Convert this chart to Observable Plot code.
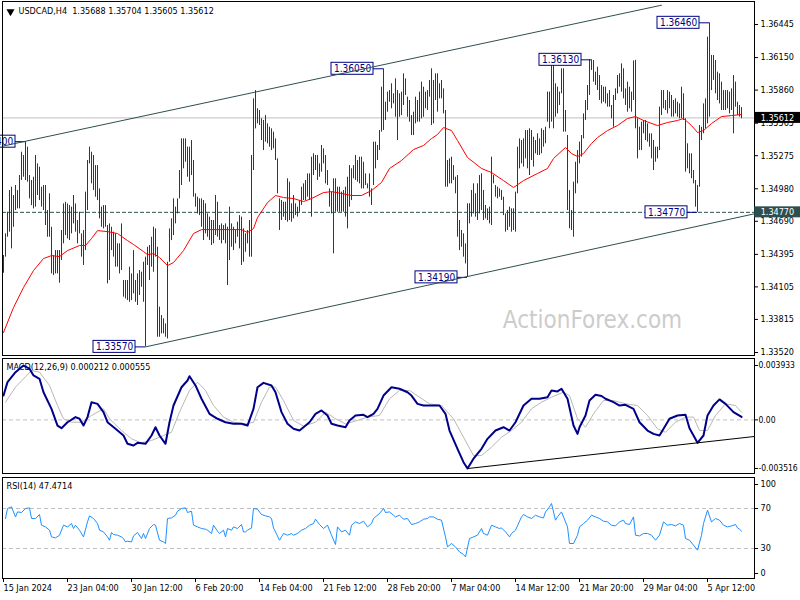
<!DOCTYPE html>
<html><head><meta charset="utf-8">
<script src="https://cdn.jsdelivr.net/npm/d3@7"></script>
<script src="https://cdn.jsdelivr.net/npm/@observablehq/plot@0.6"></script>
<style>
html,body{margin:0;padding:0;background:#fff;}
#chart{position:relative;width:800px;height:600px;overflow:hidden;background:#fff;}
#chart svg{position:absolute;left:0;background:transparent;}
</style></head><body><div id="chart"></div>
<script>
// ---------- DATA (prices stored as points above 1.30000, i.e. 5612 = 1.35612) ----------
const barHighPts = [4385,4578,4771,4964,4994,4920,5009,4964,5098,5306,5277,5400,5351,5098,5054,5083,5277,5202,5172,4994,5009,5009,4786,4935,4637,4385,4429,4429,4429,4608,4845,4860,4845,4830,4816,4920,4845,4697,4771,4578,4608,4950,5232,5351,5306,5277,5187,5187,4979,4816,4830,4830,4652,4667,4637,4593,4578,4489,4489,4667,4162,4162,4162,4281,4221,4429,4162,4221,4251,4236,4325,4370,4459,4474,4548,4637,4622,4459,3924,3849,3820,3775,4325,4622,4712,4890,4816,4890,5143,5425,5425,5425,5351,5351,5410,5232,4935,4905,4890,
4890,4875,4846,4756,4727,4697,4697,4920,4860,4652,4667,4652,4667,4637,4816,4667,4637,4608,4682,4741,4727,4623,4578,4608,4697,5277,5782,5856,5693,5678,5604,5589,5633,5559,5529,5514,5485,5425,5247,4890,4875,4860,4860,5069,5039,4846,4920,4846,4816,4875,4994,5024,5054,5113,5113,5262,5292,5277,5277,5202,5366,5336,5277,5143,4979,4950,5069,5069,4994,4994,4950,4964,4994,5083,5187,5158,5187,5277,5232,5262,5262,5217,5113,5024,5113,4979,5396,5396,5366,5500,5886,6050,5752,5842,5856,
5916,5827,5960,5856,5827,5842,6005,5960,5797,5767,5633,5663,5797,5767,5842,5931,5886,5842,5856,5946,6050,5946,6005,6005,5916,5946,5871,5678,5232,5247,5262,5187,5083,5098,4697,4608,4578,4489,4846,4846,4965,5024,4935,5024,5098,5113,4965,4831,4801,4816,5262,5098,5009,4994,4979,4965,4905,4756,4786,4816,4801,4801,4950,5351,5425,5410,5425,5500,5500,5515,5500,5440,5410,5470,5425,5515,5500,5529,5842,5842,6120,6094,5916,5886,5842,6050,6050,5678,
5455,4964,4786,5039,5217,5321,5396,5455,5648,5767,5901,6130,6130,6124,6020,6064,5990,5901,5886,5886,5827,5856,5723,5812,5871,5990,6005,6094,6050,5871,5931,5886,5842,6120,6125,5604,5529,5574,5589,5589,5559,5470,5470,5410,5351,5351,5708,5856,5856,5767,5856,5842,5812,5767,5782,5752,5737,5886,5827,5604,5381,5292,5292,5143,5054,5009,5544,5529,5737,5782,6332,6460,6169,6169,6124,6020,6005,5931,5856,5856,5856,5842,5871,5990,5931,5752,5723,5704];
const barLowPts = [4227,4370,4548,4593,4444,4637,4786,4801,4801,5054,5083,5054,5039,4890,4830,4801,4816,4920,4875,4816,4786,4652,4548,4548,4221,4206,4221,4221,4138,4340,4489,4563,4533,4518,4578,4667,4593,4489,4578,4370,4296,4429,4786,5202,5024,4964,4905,4875,4712,4637,4622,4637,4132,4162,4429,4370,4281,4281,4221,4251,4013,3998,3983,3968,3983,4043,3968,3939,4028,4102,3968,3570,4296,4162,4281,4236,4370,3656,3656,3686,3686,3656,3641,4325,4518,4563,4667,4756,4890,5009,5158,5217,5083,5039,5098,4905,4816,4756,4741,
4637,4519,4578,4548,4519,4474,4489,4563,4548,4519,4489,4519,4489,4117,4340,4459,4429,4489,4548,4444,4296,4325,4414,4489,4370,4370,5143,5514,5559,5544,5410,5321,5396,5381,5351,5321,5336,5232,4935,4608,4697,4727,4697,4682,4697,4682,4712,4741,4727,4771,4831,4875,4875,4905,4875,4727,5098,5143,5054,5083,5128,5202,5024,5009,4816,4756,4400,4771,4771,4771,4771,4771,4727,4623,4816,4875,5069,5054,5039,5024,4979,4979,5009,4979,4905,4831,5009,5158,5232,5321,5485,5500,5589,5663,5752,
5693,5737,5618,5410,5618,5633,5723,5812,5618,5574,5455,5455,5559,5574,5574,5604,5618,5693,5678,5797,5544,5559,5767,5663,5782,5782,5648,4994,4994,5024,5024,5054,4935,4548,4429,4459,4370,4310,4190,4667,4727,4756,4727,4697,4756,4786,4697,4712,4697,4667,4652,5024,4905,4890,4905,4875,4741,4593,4608,4637,4593,4608,4593,4935,5158,5202,5173,5247,5158,5098,5232,5173,5292,5277,5277,5292,5351,5381,5574,5515,5574,5515,5618,5648,5723,5827,5485,5485,
4786,4623,4608,4548,4935,5024,5202,5262,5425,5589,5678,5812,6035,5931,5901,5856,5767,5737,5752,5737,5708,5708,5604,5529,5767,5827,5886,5842,5782,5723,5663,5693,5663,5767,5515,5247,5321,5321,5470,5410,5396,5351,5247,5143,5217,5247,5321,5633,5693,5678,5648,5693,5619,5619,5648,5619,5604,5604,5589,5128,5158,5113,5069,5024,4816,4770,4994,5410,5470,5515,5559,5619,5856,5946,5827,5767,5737,5678,5678,5678,5693,5648,5678,5470,5708,5633,5619,5605];

// moving average (red)
const maIdx = [0,5,10,15,20,24,28,32,38,41,44,47,52,57,62,65,70,72,75,78,82,85,90,95,99,105,112,119,122,125,127,132,136,140,145,150,154,160,164,169,174,179,184,189,193,199,205,210,214,217,220,224,227,232,239,244,250,255,260,267,272,275,281,284,287,290,294,297,302,307,312,316,320,327,332,337,340,344,347,350,354,359,364,369];
const maPts = [3698,3921,4099,4251,4358,4384,4375,4429,4474,4474,4536,4607,4598,4581,4518,4483,4420,4393,4402,4367,4295,4322,4429,4581,4616,4616,4616,4616,4590,4625,4723,4857,4920,4902,4893,4866,4893,4946,4955,4938,4920,4920,4964,5036,5161,5232,5330,5366,5428,5464,5526,5499,5410,5259,5161,5125,5053,4991,5053,5116,5161,5250,5348,5294,5268,5294,5384,5437,5499,5544,5607,5624,5589,5544,5571,5589,5607,5544,5482,5499,5562,5624,5633,5642];

// MACD (units of 0.0001)
const macdIdx = [0,2,6,10,13,15,18,20,24,27,29,32,36,38,40,42,44,47,50,52,56,60,62,65,67,71,74,76,78,81,83,85,89,92,93,96,99,103,107,111,115,119,122,125,127,130,134,136,139,142,145,148,150,153,156,159,162,164,167,171,173,176,180,182,185,187,190,194,198,202,204,207,210,214,218,221,223,227,230,232,235,239,242,246,250,253,256,260,264,268,272,274,277,279,282,285,287,288,291,293,296,299,301,305,308,311,315,318,322,325,328,331,333,337,341,343,347,350,352,355,358,361,365,369];
const macdVal = [17.6,27.3,34.5,39.3,37.0,32.1,29.7,20.0,8.0,-4.1,-6.0,-1.7,2.0,0.8,-4.1,2.0,12.8,11.6,5.6,-1.7,-6.4,-11.3,-17.3,-18.5,-16.6,-17.3,-11.3,-5.3,-11.3,-17.3,-1.7,10.4,23.6,28.5,31.6,24.9,15.3,4.4,0.8,-1.7,-2.8,-2.8,-4.1,8.0,23.6,26.8,24.9,20.0,5.6,-2.8,-6.4,-7.7,-5.3,-1.7,4.4,6.8,3.2,-2.8,-4.1,-5.3,-0.4,3.2,3.7,2.0,4.4,8.0,17.6,23.6,22.5,20.0,17.6,11.6,10.4,10.4,10.4,4.4,-7.7,-20.9,-30.6,-35.16,-28.1,-20.9,-13.7,-7.7,-5.3,-7.7,-1.7,10.4,15.3,15.3,16.4,21.3,20.6,22.5,15.3,-4.1,-10.1,-5.3,3.2,14.0,18.2,17.3,15.3,12.8,10.4,10.9,8.0,-1.7,-7.7,-10.1,-11.3,-4.1,0.8,3.2,3.7,-6.0,-16.6,-11.3,3.2,10.4,14.8,11.6,5.6,2.12];
const sigIdx = [1,6,14,18,23,27,30,34,39,44,50,53,59,64,69,74,80,84,88,93,97,101,105,110,115,121,125,129,133,136,140,145,150,156,161,166,171,177,182,188,193,198,203,208,213,219,225,230,235,239,244,249,254,259,264,269,274,280,283,287,291,295,300,305,311,317,322,327,331,336,341,345,348,352,356,361,366,369];
const sigVal = [12.8,23.7,35.7,34.5,24.9,10.4,0.8,-1.7,-1.7,3.2,8.0,0.8,-7.7,-13.7,-16.6,-14.9,-11.3,-8.9,5.6,21.3,27.3,21.3,10.4,2.0,-1.7,-2.9,-1.7,12.8,23.7,23.7,14.0,-0.4,-4.5,-1.7,5.6,0.8,-2.9,-0.4,2.0,3.2,15.2,21.3,21.3,16.4,11.6,10.4,0.8,-12.5,-25.8,-25.8,-19.7,-12.5,-7.7,-1.7,8.0,12.8,16.4,20.1,17.6,0.8,-5.3,4.4,14.0,14.0,11.6,10.4,3.2,-6.5,-8.9,-1.7,2.0,2.0,-7.7,-7.7,3.2,11.6,10.4,5.55];
const macdTrendIdx = [232, 375.5];
const macdTrendVal = [-35.2, -12.0];

// RSI(14)
const rsiIdx = [1,2,4,6,7,9,11,13,14,16,18,19,21,23,24,26,28,30,32,34,35,36,38,40,42,43,45,47,48,50,52,53,54,55,57,59,60,61,62,64,65,67,69,70,71,73,75,76,78,80,81,82,84,86,87,89,91,92,94,95,97,99,101,102,104,105,107,108,110,111,112,114,115,117,119,120,121,122,124,125,127,129,131,133,134,135,136,138,140,142,144,145,147,149,151,153,155,156,158,160,162,164,166,167,169,171,173,174,176,178,180,182,184,185,188,190,191,193,195,196,198,200,202,204,206,208,210,212,213,215,217,219,221,222,224,226,228,230,231,233,235,237,239,240,242,244,246,248,249,251,253,254,256,259,260,262,264,266,268,270,271,273,274,276,277,279,282,283,285,287,288,290,292,294,296,298,300,302,304,306,308,310,311,313,315,316,318,320,322,324,326,328,330,332,334,336,338,340,341,343,345,347,349,350,352,354,356,358,360,362,364,366,367,368,369];
const rsiVal = [60.0,70.0,71.6,61.6,66.6,66.0,70.0,70.6,60.0,60.0,64.0,53.3,51.6,48.3,41.6,40.6,43.3,53.3,51.6,55.0,50.0,53.3,48.3,41.6,56.6,62.6,60.0,55.0,48.3,46.6,41.6,38.3,46.0,44.0,43.3,41.6,40.0,36.6,37.3,36.6,42.6,46.0,40.0,45.0,40.0,50.0,54.0,53.3,38.3,36.6,35.0,60.0,60.6,63.3,67.3,70.0,70.6,66.0,67.3,53.3,51.6,50.0,49.3,48.3,45.0,53.3,47.3,45.0,48.3,41.6,50.0,48.3,51.6,50.0,54.0,46.6,46.6,48.3,50.6,70.0,69.3,64.0,62.6,61.6,60.0,50.6,46.6,38.3,45.0,43.3,45.0,43.3,45.0,48.3,50.0,53.3,55.0,59.3,54.0,50.0,53.3,43.3,34.0,51.6,46.6,48.3,43.3,53.3,56.6,55.0,57.3,51.6,55.0,60.0,65.0,70.0,66.0,66.6,63.3,61.6,63.3,59.3,60.0,54.0,55.0,56.6,59.3,60.0,61.6,61.6,59.3,58.3,41.6,31.6,35.0,31.6,26.6,24.0,21.6,40.0,41.6,43.3,50.0,45.0,43.3,53.3,51.6,50.0,50.6,46.6,41.6,45.0,48.3,61.6,64.0,61.6,60.0,63.3,61.6,60.6,66.6,71.6,75.0,58.3,61.6,66.6,51.6,35.0,35.0,43.3,51.6,55.0,58.3,63.3,61.6,60.0,57.3,56.6,53.3,52.6,56.6,58.3,55.0,54.0,61.6,43.3,42.6,45.0,45.0,43.3,38.3,43.3,56.6,53.3,54.0,52.6,55.0,53.3,40.0,38.3,33.3,28.3,43.3,55.0,68.3,56.6,60.0,58.3,53.3,51.6,52.6,54.0,50.6,49.3,47.47];

// channel lines (bar index, price)
const upperIdx = [-0.5, 329];
const upperPrice = [1.35360, 1.36617];
const lowerIdx = [71, 375.5];
const lowerPrice = [1.33570, 1.34757];

// labelled swing points
const annIdx = [11, 71, 190, 232, 294, 347, 353];
const annPrice = [1.35400, 1.33570, 1.36050, 1.34190, 1.36130, 1.34770, 1.36460];

const priceTicks = [1.36445,1.36150,1.35860,1.35565,1.35275,1.34980,1.34690,1.34395,1.34105,1.33815,1.33520];
const currentPrice = 1.35612;
const supportPrice = 1.34770;
const macdTicks = [0.003933, 0, -0.003516];
const xTickIdx = [0,32,64,96,128,160,192,224,256,288,320,352];
const xTickLabels = ["15 Jan 2024","23 Jan 04:00","30 Jan 12:00","6 Feb 20:00","14 Feb 04:00","21 Feb 12:00","28 Feb 20:00","7 Mar 04:00","14 Mar 12:00","21 Mar 20:00","29 Mar 04:00","5 Apr 12:00"];

const titleText = "USDCAD,H4  1.35688 1.35704 1.35605 1.35612";
const macdText = "MACD(12,26,9) 0.000212 0.000555";
const rsiText = "RSI(14) 47.4714";
const watermark = "ActionForex.com";

// ---------- BUILD ----------
const FONT = '"DejaVu Sans Condensed","Liberation Sans",Arial,sans-serif';
const BAR = "#173f56", NAVY = "#000080", SLATE = "#2f4f4f";
const BASE = 1.3, POINT = 1e-5;
const bars = barHighPts.map((h, i) => ({i, high: BASE + h * POINT, low: BASE + barLowPts[i] * POINT}));
const ma = maIdx.map((i, k) => ({i, v: BASE + maPts[k] * POINT}));
const upper = upperIdx.map((i, k) => ({i, v: upperPrice[k]}));
const lower = lowerIdx.map((i, k) => ({i, v: lowerPrice[k]}));
const ann = annIdx.map((i, k) => ({i, p: annPrice[k]}));
const tags = [{p: currentPrice, bg: "#000000"}, {p: supportPrice, bg: SLATE}];
const macd = macdIdx.map((i, k) => ({i, v: macdVal[k] * 1e-4}));
const sig = sigIdx.map((i, k) => ({i, v: sigVal[k] * 1e-4}));
const mtrend = macdTrendIdx.map((i, k) => ({i, v: macdTrendVal[k] * 1e-4}));
const rsi = rsiIdx.map((i, k) => ({i, v: rsiVal[k]}));
const xLabel = new Map(xTickIdx.map((d, k) => [d, xTickLabels[k]]));

const X = () => ({domain: [-0.5, 375.5], range: [2, 754], axis: null, label: null});
const style = {fontFamily: FONT, fontSize: "9px", background: "transparent", color: "#000"};
const PX = (priceTicks[0] - priceTicks[priceTicks.length - 1]) / 328; // price per pixel

const main = Plot.plot({
  width: 800, height: 356, marginLeft: 2, marginRight: 46, marginTop: 1, marginBottom: 1,
  style,
  x: X(),
  y: {domain: [1.33520, 1.36445], range: [352, 24], axis: null, label: null},
  marks: [
    Plot.text([watermark], {frameAnchor: "bottom-right", text: d => d, dx: -162, dy: -35, textAnchor: "middle", lineAnchor: "middle", fontSize: 24, fill: "#cccccc"}),
    Plot.ruleY([currentPrice], {stroke: "#c0c0c0"}),
    Plot.ruleY([supportPrice], {stroke: SLATE, strokeDasharray: "4,2"}),
    Plot.ruleX(bars, {x: "i", y1: "low", y2: "high", stroke: BAR}),
    Plot.line(ma, {x: "i", y: "v", stroke: "#ff0000", strokeWidth: 1}),
    Plot.rect(ann, {x1: d => d.i - 26, x2: d => d.i - 5, y1: d => d.p - 6 * PX, y2: d => d.p + 6 * PX, fill: "white", stroke: NAVY}),
    Plot.ruleY(ann, {y: "p", x1: d => d.i - 5, x2: "i", stroke: NAVY}),
    Plot.text(ann, {x: d => d.i - 15.5, y: "p", text: d => d.p.toFixed(5), fill: NAVY, fontSize: 10}),
    Plot.line(upper, {x: "i", y: "v", stroke: SLATE, strokeWidth: 1, clip: true}),
    Plot.line(lower, {x: "i", y: "v", stroke: SLATE, strokeWidth: 1, clip: true}),
    Plot.frame({stroke: "#000"}),
    Plot.axisY({anchor: "right", ticks: priceTicks, tickFormat: d => d.toFixed(5), tickSize: 3, tickPadding: 3, label: null, fontSize: 9}),
    Plot.rect(tags, {x1: 375.6, x2: 400, y1: d => d.p - 5.5 * PX, y2: d => d.p + 5.5 * PX, fill: "bg"}),
    Plot.text(tags, {x: 375.6, y: "p", text: d => d.p.toFixed(5), fill: "white", textAnchor: "start", dx: 6, fontSize: 9}),
    Plot.dot([0], {frameAnchor: "top-left", dx: 8, dy: 10, symbol: "triangle", r: 3, fill: "#000", stroke: null, rotate: 180}),
    Plot.text([titleText], {frameAnchor: "top-left", text: d => d, dx: 16, dy: 10, textAnchor: "start", lineAnchor: "middle", fontSize: 9, fill: "#000"})
  ]
});

const macdPlot = Plot.plot({
  width: 800, height: 119, marginLeft: 2, marginRight: 46, marginTop: 2, marginBottom: 2,
  style,
  x: X(),
  y: {domain: [-0.003516, 0.003933], range: [112, 9], axis: null, label: null},
  marks: [
    Plot.ruleY([0], {stroke: "#c0c0c0", strokeDasharray: "4,3"}),
    Plot.text([macdText], {frameAnchor: "top-left", text: d => d, dx: 4, dy: 9, textAnchor: "start", lineAnchor: "middle", fontSize: 9}),
    Plot.line(sig, {x: "i", y: "v", stroke: "#b8b8b8", strokeWidth: 1}),
    Plot.line(macd, {x: "i", y: "v", stroke: "#00008b", strokeWidth: 2}),
    Plot.line(mtrend, {x: "i", y: "v", stroke: "#000", strokeWidth: 1, clip: true}),
    Plot.frame({stroke: "#000"}),
    Plot.axisY({anchor: "right", ticks: macdTicks, tickFormat: d => d === 0 ? "0.00" : d.toFixed(6), tickSize: 3, tickPadding: 1, label: null, fontSize: 8.5})
  ]
});

const rsiPlot = Plot.plot({
  width: 800, height: 125, marginLeft: 2, marginRight: 46, marginTop: 2, marginBottom: 22,
  style,
  x: X(),
  y: {domain: [0, 100], range: [103, 3], axis: null, label: null},
  marks: [
    Plot.ruleY([70, 30], {stroke: "#c0c0c0", strokeDasharray: "4,3"}),
    Plot.text([rsiText], {frameAnchor: "top-left", text: d => d, dx: 4, dy: 9, textAnchor: "start", lineAnchor: "middle", fontSize: 9}),
    Plot.line(rsi, {x: "i", y: "v", stroke: "#1e90ff", strokeWidth: 1}),
    Plot.frame({stroke: "#000"}),
    Plot.axisY({anchor: "right", ticks: [70, 30], tickSize: 3, tickPadding: 3, label: null, fontSize: 9}),
    Plot.axisY({anchor: "right", ticks: [100], tickSize: 3, tickPadding: 3, label: null, fontSize: 9, dy: 6}),
    Plot.axisY({anchor: "right", ticks: [0], tickSize: 3, tickPadding: 3, label: null, fontSize: 9, dy: -5}),
    Plot.axisX({anchor: "bottom", ticks: xTickIdx, tickFormat: d => xLabel.get(d), textAnchor: "start", dx: 0, tickSize: 4, tickPadding: 2, label: null, fontSize: 9})
  ]
});

const host = document.getElementById("chart");
[[main, 0], [macdPlot, 356], [rsiPlot, 475]].forEach(([el, top]) => {
  el.style.top = top + "px";
  host.appendChild(el);
});
</script>
</body></html>
